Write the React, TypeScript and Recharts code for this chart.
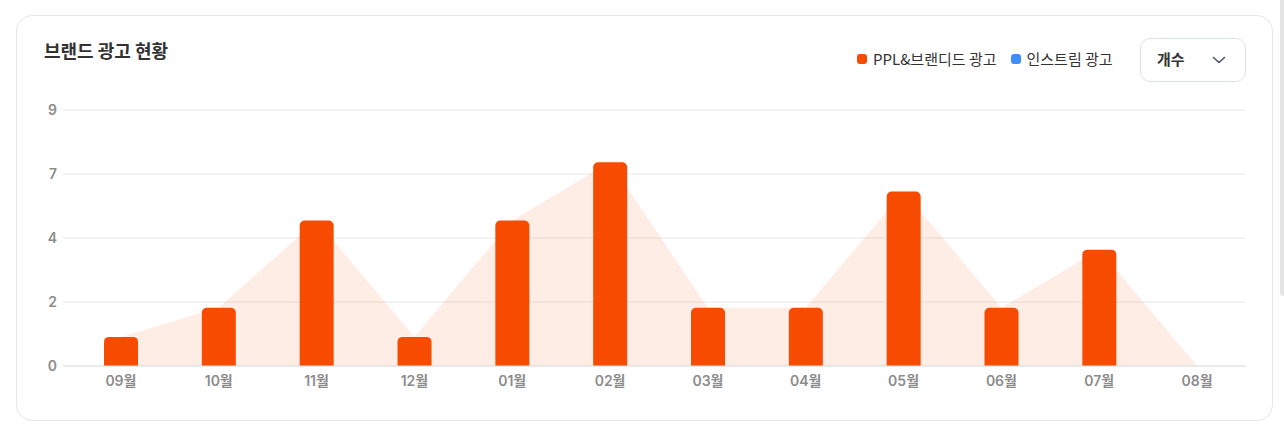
import React from "react";
import { ComposedChart, Bar, Area, XAxis, YAxis, CartesianGrid } from "recharts";

const months = ["09월", "10월", "11월", "12월", "01월", "02월", "03월", "04월", "05월", "06월", "07월", "08월"];
const pplValues = [1, 2, 5, 1, 5, 7, 2, 2, 6, 2, 4, 0];
const yTicks = [0, 2.2, 4.4, 6.6, 8.8];
const yTickLabels = ["0", "2", "4", "7", "9"];
const legendNames = ["PPL&브랜디드 광고", "인스트림 광고"];
const legendColors = ["#F64B00", "#3D8EF8"];
const title = "브랜드 광고 현황";
const selectLabel = "개수";

const data = months.map((m, i) => ({ month: m, ppl: pplValues[i] }));

const FONT = "Inter, 'Noto Sans CJK KR', sans-serif";
const KFONT = "'Noto Sans CJK KR', sans-serif";

export default function App() {
  return (
    <div style={{ position: "absolute", left: 0, top: 0, width: 1284, height: 430, background: "#fff", fontFamily: FONT, overflow: "hidden" }}>
      <div
        style={{
          position: "absolute",
          left: 16,
          top: 15,
          width: 1255,
          height: 404,
          border: "1px solid #E6E6E6",
          borderRadius: 16,
          boxSizing: "content-box",
        }}
      />
      <div style={{ position: "absolute", left: 1280, top: 0, width: 6, height: 296, background: "#E4E4E4", borderBottomLeftRadius: 4 }} />
      <div style={{ position: "absolute", left: 44, top: 37, fontSize: 18, fontWeight: 700, color: "#333", fontFamily: KFONT, lineHeight: "26px" }}>
        {title}
      </div>
      <div style={{ position: "absolute", left: 857, top: 49, display: "flex", alignItems: "center", fontSize: 15, color: "#333", fontFamily: KFONT, lineHeight: "20px" }}>
        {legendNames.map((n, i) => (
          <div key={n} style={{ display: "flex", alignItems: "center", marginRight: 14 }}>
            <span style={{ width: 10, height: 10, borderRadius: 3, background: legendColors[i], display: "inline-block", marginRight: 6 }} />
            <span>{n}</span>
          </div>
        ))}
      </div>
      <div
        style={{
          position: "absolute",
          left: 1140,
          top: 38,
          width: 106,
          height: 44,
          border: "1px solid #DDE1EA",
          borderRadius: 10,
          boxSizing: "border-box",
        }}
      >
        <span style={{ position: "absolute", left: 16, top: 10, fontSize: 15, fontWeight: 700, color: "#333", fontFamily: KFONT, lineHeight: "20px" }}>
          {selectLabel}
        </span>
        <svg style={{ position: "absolute", left: 71, top: 16 }} width="14" height="10" viewBox="0 0 14 10">
          <path d="M1.5 2.5 L7 7.5 L12.5 2.5" fill="none" stroke="#4A5078" strokeWidth="1.6" strokeLinecap="round" strokeLinejoin="round" />
        </svg>
      </div>
      <div style={{ position: "absolute", left: 0, top: 0 }}>
        <ComposedChart width={1284} height={430} data={data} margin={{ top: 110, right: 38, bottom: 34, left: 23 }}>
          <CartesianGrid vertical={false} stroke="#E8E8E8" />
          <XAxis
            dataKey="month"
            axisLine={{ stroke: "#E3E3E3" }}
            tickLine={false}
            tickSize={0}
            tickMargin={10}
            padding={{ left: 9, right: 0 }}
            height={30}
            tick={{ fill: "#8C8C8C", fontSize: 14, fontWeight: 600, fontFamily: FONT }}
          />
          <YAxis
            domain={[0, 8.8]}
            ticks={yTicks}
            tickFormatter={(v: number) => yTickLabels[yTicks.indexOf(v)] ?? String(v)}
            axisLine={false}
            tickLine={false}
            tickSize={0}
            tickMargin={6}
            width={40}
            tick={{ fill: "#8C8C8C", fontSize: 14, fontWeight: 600, fontFamily: FONT }}
          />
          <Area dataKey="ppl" type="linear" stroke="none" fill="#F64B00" fillOpacity={0.1} isAnimationActive={false} />
          <Bar dataKey="ppl" fill="#F64B00" barSize={34} radius={[5, 5, 0, 0]} isAnimationActive={false} />
        </ComposedChart>
      </div>
    </div>
  );
}
